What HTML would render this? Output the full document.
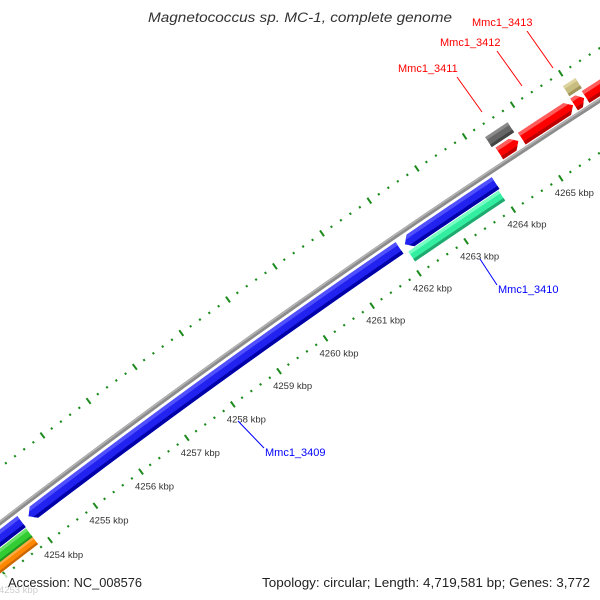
<!DOCTYPE html>
<html><head><meta charset="utf-8"><style>
html,body{margin:0;padding:0;background:#fff;width:600px;height:600px;overflow:hidden;}
svg{display:block;font-family:"Liberation Sans",sans-serif;}
</style></head><body>
<svg id="map" width="600" height="600" viewBox="0 0 600 600" xmlns="http://www.w3.org/2000/svg" overflow="hidden">
<rect width="600" height="600" fill="#fff"/>
<defs id="defs"></defs>
<g id="rulers"></g>
<g id="backbone"></g>
<g id="features"></g>
<g id="ticklabels"></g>
<g font-size="11">
  <line x1="238" y1="421" x2="264" y2="448" stroke="#0000ff" stroke-width="1"/>
  <text x="265" y="456" fill="#0000ff">Mmc1_3409</text>
  <line x1="480" y1="259" x2="497" y2="285" stroke="#0000ff" stroke-width="1"/>
  <text x="498" y="293" fill="#0000ff">Mmc1_3410</text>
  <line x1="457" y1="77" x2="482" y2="112" stroke="#ff0000" stroke-width="1"/>
  <text x="398" y="72" fill="#ff0000">Mmc1_3411</text>
  <line x1="497" y1="51" x2="522" y2="86" stroke="#ff0000" stroke-width="1"/>
  <text x="440" y="46" fill="#ff0000">Mmc1_3412</text>
  <line x1="527" y1="31" x2="553" y2="68" stroke="#ff0000" stroke-width="1"/>
  <text x="472" y="26" fill="#ff0000">Mmc1_3413</text>
</g>
<text x="300" y="22" text-anchor="middle" font-size="13.5" font-style="italic" fill="#333" textLength="304" lengthAdjust="spacingAndGlyphs">Magnetococcus sp. MC-1, complete genome</text>
<rect x="0" y="574" width="600" height="26" fill="#fff" opacity="0.75"/>
<text x="8" y="587" font-size="13" fill="#222" textLength="134" lengthAdjust="spacingAndGlyphs">Accession: NC_008576</text>
<text x="590" y="587" text-anchor="end" font-size="13" fill="#222" textLength="328" lengthAdjust="spacingAndGlyphs">Topology: circular; Length: 4,719,581 bp; Genes: 3,772</text>
</svg>
<script>
// ---- data ----
const featureNames = ["blue-left","green-left","orange-left","Mmc1_3409","blue-right","Mmc1_3410","Mmc1_3411","red-big","red-small","red-next","gray-box","tan-box"];
const featureStarts = [4252000,4252000,4252000,4253950,4262080,4262060,4264340,4264810,4265900,4266140,4264290,4265910];
const featureEnds   = [4253800,4253790,4253790,4261970,4264000,4263970,4264740,4265880,4266110,4268500,4264760,4266170];
const featureStrand = [-1,0,0,-1,-1,0,1,1,1,1,0,0];
const featureTrack  = ["rev1","rev2","rev3","rev1","rev1","rev2","fwd1","fwd1","fwd1","fwd1","fwd2","fwd2"];
const featureColor  = ["blue","green","orange","blue","blue","teal","red","red","red","red","gray","tan"];
const tickLabelsKbp = [4252,4253,4254,4255,4256,4257,4258,4259,4260,4261,4262,4263,4264,4265,4266,4267];

// ---- geometry (layout, not data) ----
const trackOffset = {fwd2:26, fwd1:10.5, rev1:-12, rev2:-26, rev3:-35.5};
const trackWidth  = {fwd2:12, fwd1:14, rev1:14, rev2:12, rev3:9};
const palette = {
  blue:["#2222f0","#5050ff","#0000a8"], green:["#33cc33","#66e066","#1f991f"],
  orange:["#ff8800","#ffaa44","#cc6600"], teal:["#33eea0","#77ffc4","#1faa70"],
  red:["#ff0000","#ff5c5c","#bb0000"], gray:["#666666","#8a8a8a","#444444"],
  tan:["#c8bd80","#ddd4a0","#a0955c"]
};
function circum(a,b,c){
  const d=2*(a[0]*(b[1]-c[1])+b[0]*(c[1]-a[1])+c[0]*(a[1]-b[1]));
  const ux=((a[0]*a[0]+a[1]*a[1])*(b[1]-c[1])+(b[0]*b[0]+b[1]*b[1])*(c[1]-a[1])+(c[0]*c[0]+c[1]*c[1])*(a[1]-b[1]))/d;
  const uy=((a[0]*a[0]+a[1]*a[1])*(c[0]-b[0])+(b[0]*b[0]+b[1]*b[1])*(a[0]-c[0])+(c[0]*c[0]+c[1]*c[1])*(b[0]-a[0]))/d;
  return [ux,uy];
}
const C = circum([0,523],[240,345],[480,179]);
const R = Math.hypot(0-C[0],523-C[1]);
const thA = Math.atan2(540-C[1],50-C[0]);
const thB = Math.atan2(180-C[1],562-C[0]);
const kAng = (thB-thA)/11000;
function ang(bp){return thA+(bp-4254000)*kAng;}
function pt(bp,d){const t=ang(bp),r=R+d;return [C[0]+r*Math.cos(t),C[1]+r*Math.sin(t)];}
const NS="http://www.w3.org/2000/svg";
function mk(tag,attrs,parent){const e=document.createElementNS(NS,tag);for(const k in attrs)e.setAttribute(k,attrs[k]);parent.appendChild(e);return e;}
function arcPath(b1,b2,d,n){let s="";for(let i=0;i<=n;i++){const p=pt(b1+(b2-b1)*i/n,d);s+=(i?"L":"M")+p[0].toFixed(2)+","+p[1].toFixed(2);}return s;}

// rulers
const rulers=document.getElementById("rulers");
[44,-44].forEach(function(d){
  for(let bp=4251000;bp<=4269000;bp+=200){
    const major=(bp%1000===0);
    const h=major?3.5:1.1;
    const a=pt(bp,d-h),b=pt(bp,d+h);
    const l=mk("line",{x1:a[0],y1:a[1],x2:b[0],y2:b[1],stroke:"#1c8a1c","stroke-width":2},rulers);
    
    
  }
});
// tick labels
const tl=document.getElementById("ticklabels");
tickLabelsKbp.forEach(function(k){
  const p=pt(k*1000,-44);
  const t=mk("text",{x:(p[0]-6).toFixed(1),y:(p[1]+18).toFixed(1),"font-size":"9.5",fill:"#333"},tl);
  t.textContent=k+" kbp";
  
  
});
// backbone
const bb=document.getElementById("backbone");
const bbMain=mk("path",{d:arcPath(4250000,4270000,0,80),stroke:"#8c8c8c","stroke-width":4.5,fill:"none"},bb);


const bbHi=mk("path",{d:arcPath(4250000,4270000,1.2,80),stroke:"#b4b4b4","stroke-width":1.5,fill:"none"},bb);



// features
const fg=document.getElementById("features");
const defs=document.getElementById("defs");
const pxPerBp=Math.abs(kAng)*R;
featureNames.forEach(function(name,i){
  const tr=featureTrack[i],d=trackOffset[tr],w=trackWidth[tr];
  const s=featureStarts[i],e=featureEnds[i],st=featureStrand[i];
  const head=st===0?0:Math.min((w*0.5)/pxPerBp,(e-s)*0.5);
  const o=d+w/2,inn=d-w/2,n=16;
  let pts=[];
  const bs=st<0?s+head:s, be=st>0?e-head:e;
  for(let j=0;j<=n;j++)pts.push(pt(bs+(be-bs)*j/n,o));
  if(st>0)pts.push(pt(e,d));
  for(let j=n;j>=0;j--)pts.push(pt(bs+(be-bs)*j/n,inn));
  if(st<0)pts.push(pt(s,d));
  const dstr="M"+pts.map(p=>p[0].toFixed(2)+","+p[1].toFixed(2)).join("L")+"Z";
  const cp=mk("clipPath",{id:"cp"+i},defs);
  mk("path",{d:dstr},cp);
  const g=mk("g",{"clip-path":"url(#cp"+i+")"},fg);
  
  
  const col=palette[featureColor[i]];
  const body=mk("path",{d:dstr,fill:col[0]},g);
  
  
  const hi=mk("path",{d:arcPath(s-500,e+500,o-w*0.12,24),stroke:col[1],"stroke-width":w*0.3,fill:"none"},g);
  
  
  const sh=mk("path",{d:arcPath(s-500,e+500,inn+w*0.12,24),stroke:col[2],"stroke-width":w*0.28,fill:"none"},g);
  
  
});
</script>
</body></html>
